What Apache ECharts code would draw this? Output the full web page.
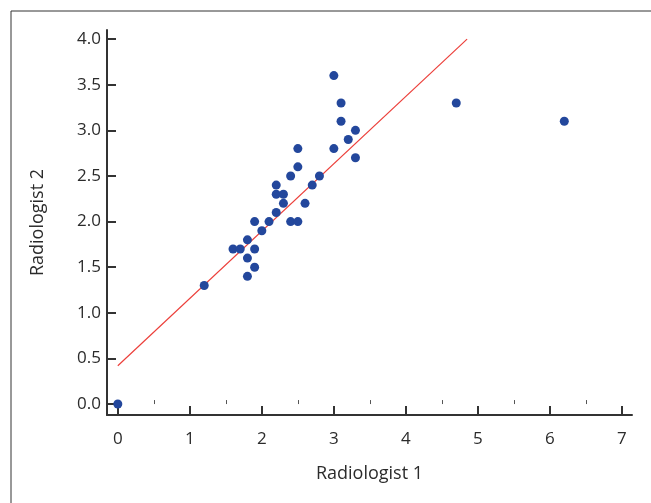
<!DOCTYPE html>
<html>
<head>
<meta charset="utf-8">
<script src="https://cdn.jsdelivr.net/npm/echarts@6/dist/echarts.min.js"></script>
<style>
html,body{margin:0;padding:0;background:#fff;}
#chart{width:651px;height:503px;}
</style>
</head>
<body>
<div id="chart"></div>
<script>
// Radiologist 1 (x) and Radiologist 2 (y) readings
var rad1 = [0, 1.2, 1.6, 1.7, 1.8, 1.8, 1.8, 1.9, 1.9, 1.9, 2.0, 2.1, 2.2, 2.2, 2.2, 2.3, 2.3, 2.4, 2.4, 2.5, 2.5, 2.5, 2.6, 2.7, 2.8, 3.0, 3.0, 3.1, 3.1, 3.2, 3.3, 3.3, 4.7, 6.2];
var rad2 = [0, 1.3, 1.7, 1.7, 1.8, 1.6, 1.4, 2.0, 1.7, 1.5, 1.9, 2.0, 2.4, 2.3, 2.1, 2.3, 2.2, 2.5, 2.0, 2.8, 2.6, 2.0, 2.2, 2.4, 2.5, 3.6, 2.8, 3.3, 3.1, 2.9, 3.0, 2.7, 3.3, 3.1];
// fitted line end points
var fitX = [0, 4.85];
var fitY = [0.42, 4.0];
// tick values
var xTicks = [0, 1, 2, 3, 4, 5, 6, 7];
var xMinorTicks = [0.5, 1.5, 2.5, 3.5, 4.5, 5.5, 6.5];
var yTicks = [0, 0.5, 1.0, 1.5, 2.0, 2.5, 3.0, 3.5, 4.0];
var xName = 'Radiologist 1';
var yName = 'Radiologist 2';

var FONT = '"Open Sans", sans-serif';
var TXT = '#2b2b2b';
var AX = '#333333';

var points = rad1.map(function (v, i) { return [v, rad2[i]]; });
var fitLine = fitX.map(function (v, i) { return [v, fitY[i]]; });

var chart = echarts.init(document.getElementById('chart'), null, {renderer: 'canvas'});
chart.setOption({
  animation: false,
  backgroundColor: '#fff',
  grid: {left: 107, top: 30, width: 525, height: 385, containLabel: false},
  xAxis: [{
    type: 'value', min: -0.15, max: 7.14,
    name: xName, nameLocation: 'middle', nameGap: 50,
    nameTextStyle: {fontFamily: FONT, fontSize: 18, color: TXT},
    axisLine: {show: true, onZero: false, lineStyle: {color: AX, width: 2}},
    axisTick: {show: true, inside: true, length: 9, customValues: xTicks, lineStyle: {color: AX, width: 2}},
    axisLabel: {show: true, customValues: xTicks, margin: 16, fontFamily: FONT, fontSize: 17, color: TXT},
    splitLine: {show: false}
  }, {
    type: 'value', min: -0.15, max: 7.14, position: 'bottom',
    axisLine: {show: false},
    axisTick: {show: true, inside: true, length: 4, customValues: xMinorTicks, lineStyle: {color: '#555', width: 1}},
    axisLabel: {show: false},
    splitLine: {show: false}
  }],
  yAxis: {
    type: 'value', min: -0.12, max: 4.1,
    name: yName, nameLocation: 'middle', nameGap: 60, nameRotate: 90,
    nameTextStyle: {fontFamily: FONT, fontSize: 18, color: TXT},
    axisLine: {show: true, onZero: false, lineStyle: {color: AX, width: 2}},
    axisTick: {show: true, inside: true, length: 9, customValues: yTicks, lineStyle: {color: AX, width: 2}},
    axisLabel: {show: true, customValues: yTicks, margin: 6, fontFamily: FONT, fontSize: 17, color: TXT,
      formatter: function (v) { return Number(v).toFixed(1); }},
    splitLine: {show: false}
  },
  graphic: [
    {type: 'line', shape: {x1: 11, y1: 11, x2: 651, y2: 11}, style: {stroke: '#333', lineWidth: 1}, silent: true},
    {type: 'line', shape: {x1: 11, y1: 11, x2: 11, y2: 503}, style: {stroke: '#333', lineWidth: 1}, silent: true}
  ],
  series: [{
    type: 'line', data: fitLine, symbol: 'none', silent: true,
    lineStyle: {color: '#ec3f3a', width: 1.2}, z: 1
  }, {
    type: 'scatter', data: points, symbol: 'circle', symbolSize: 9,
    itemStyle: {color: '#23479c', opacity: 1}, z: 2
  }]
});
</script>
</body>
</html>
